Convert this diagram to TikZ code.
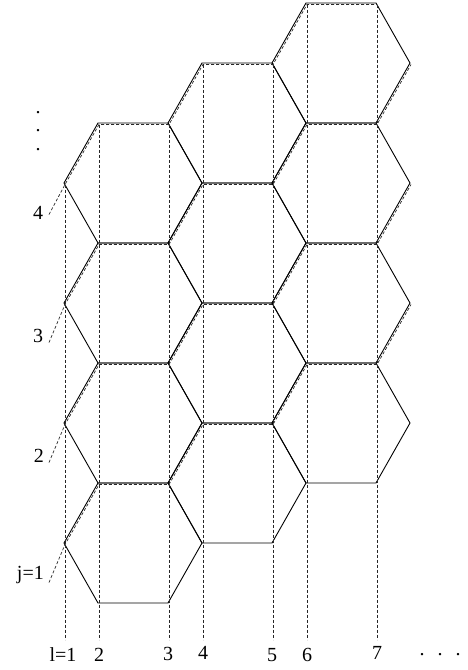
\documentclass[tikz,border=0pt]{standalone}
\usepackage{fontspec}
\setmainfont{Liberation Serif}
\begin{document}
\begin{tikzpicture}[x=1pt,y=-1pt,
    hexa/.style={line width=0.9pt},
    grille/.style={black!85,line width=0.7pt,dash pattern=on 3pt off 2pt,shift={(1,1.5)}},
    etiq/.style={font=\fontsize{20}{24}\selectfont,inner sep=0pt}]
  \useasboundingbox (0,0) rectangle (468,670);
  % hexagones (colonnes 1, 2, 3)
  \foreach \cx/\cy in {133/183,133/303,133/423,133/543,237/123,237/243,237/363,237/483,341/63,341/183,341/303,341/423}
    \draw[hexa] (\cx-69,\cy) -- (\cx-35,\cy-60) -- (\cx+35,\cy-60) -- (\cx+69,\cy) -- (\cx+35,\cy+60) -- (\cx-35,\cy+60) -- cycle;
  % lignes l
  \foreach \x/\y in {64/183,98/123,168/123,202/63,272/63,306/3,376/3}
    \draw[grille] (\x,\y) -- (\x,638);
  % lignes j
  \foreach \a in {543,423,303}
    \draw[grille] (48,\a+38) -- (64,\a) -- (98,\a-60) -- (168,\a-60) -- (202,\a-120) -- (272,\a-120) -- (306,\a-180) -- (376,\a-180) -- (410,\a-240);
  \draw[grille] (48,213) -- (64,183) -- (98,123) -- (168,123) -- (202,63) -- (272,63) -- (306,3) -- (376,3);
  % etiquettes j
  \node[etiq,font=\fontsize{20}{18.5}\selectfont,align=center,anchor=base] (vpts) at (38,150) {.\\.\\.};
  \node[etiq] (j4) at (38,213) {4};
  \node[etiq] (j3) at (38,336) {3};
  \node[etiq] (j2) at (39,456) {2};
  \node[etiq,anchor=east] (j1) at (44,575) {j=1};
  % etiquettes l
  \node[etiq,anchor=base] (l1) at (63,661) {l=1};
  \node[etiq,anchor=base] (l2) at (99,661) {2};
  \node[etiq,anchor=base] (l3) at (168,660) {3};
  \node[etiq,anchor=base] (l4) at (203,659) {4};
  \node[etiq,anchor=base] (l5) at (272,661) {5};
  \node[etiq,anchor=base] (l6) at (307,661) {6};
  \node[etiq,anchor=base] (l7) at (377,659) {7};
  \node[etiq,anchor=base] (lpts) at (440,655) {.\hspace{13pt}.\hspace{13pt}.};
\end{tikzpicture}
\end{document}
